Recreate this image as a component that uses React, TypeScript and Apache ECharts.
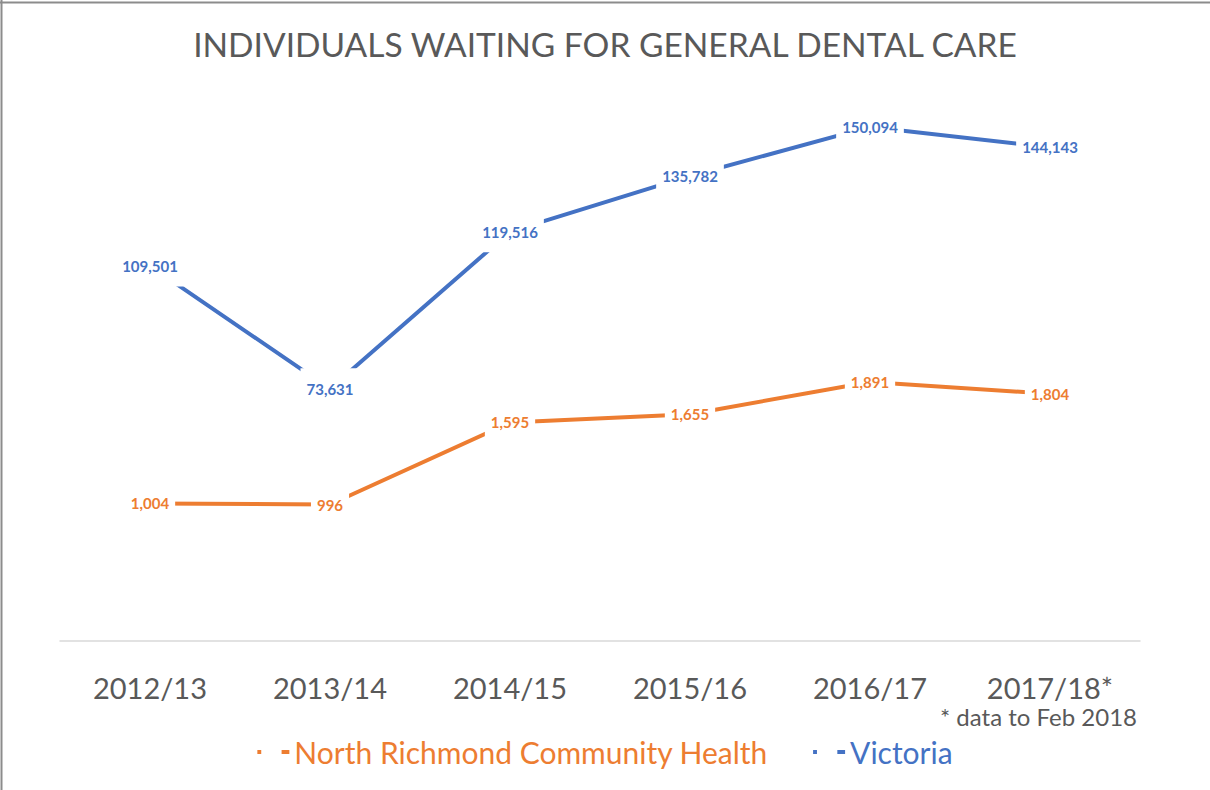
import React, { useEffect, useRef } from "react";
import * as echarts from "echarts";

const categories = ["2012/13", "2013/14", "2014/15", "2015/16", "2016/17", "2017/18*"];
const northRichmond = [1004, 996, 1595, 1655, 1891, 1804];
const victoria = [109501, 73631, 119516, 135782, 150094, 144143];
const seriesNames = ["North Richmond Community Health", "Victoria"];
const footnote = "* data to Feb 2018";
const titleText = "INDIVIDUALS WAITING FOR GENERAL DENTAL CARE";

const ORANGE = "#ED7D31";
const BLUE = "#4472C4";
const FONT = "Lato, 'Open Sans', sans-serif";

export default function App() {
  const ref = useRef<HTMLDivElement>(null);
  useEffect(() => {
    document.body.style.margin = "0";
    const chart = echarts.init(ref.current!, null, { renderer: "svg" });
    const fmt = (p: any) => Number(p.value).toLocaleString("en-US");
    const labelCommon = {
      show: true,
      position: "inside",
      fontFamily: FONT,
      fontWeight: "bold",
      fontSize: 15,
      backgroundColor: "#ffffff",
      padding: [13, 6],
      formatter: fmt,
    };
    chart.setOption({
      animation: false,
      backgroundColor: "#ffffff",
      textStyle: { fontFamily: FONT },
      title: {
        text: titleText,
        left: "center",
        top: 22,
        textStyle: { fontFamily: FONT, fontSize: 33.5, fontWeight: "normal", color: "#595959" },
      },
      grid: { left: 60, right: 70, top: 93, bottom: 149 },
      legend: {
        bottom: 18,
        left: "center",
        itemWidth: 32,
        itemHeight: 4,
        itemGap: 45,
        icon: "path://M0,0H4V4H0Z M25,0H33V4H25Z",
        textStyle: { fontFamily: FONT, fontSize: 30 },
        data: [
          { name: seriesNames[0], textStyle: { color: ORANGE } },
          { name: seriesNames[1], textStyle: { color: BLUE } },
        ],
      },
      xAxis: {
        type: "category",
        data: categories,
        boundaryGap: true,
        axisLine: { lineStyle: { color: "#d9d9d9", width: 1.5 } },
        axisTick: { show: false },
        axisLabel: { fontFamily: FONT, fontSize: 29, color: "#595959", margin: 32 },
      },
      yAxis: [
        { type: "value", min: 0, max: 4000, show: false, splitLine: { show: false } },
        { type: "value", min: 0, max: 160000, show: false, splitLine: { show: false } },
      ],
      series: [
        {
          name: seriesNames[0],
          type: "line",
          yAxisIndex: 0,
          data: northRichmond,
          symbol: "circle",
          symbolSize: 2,
          itemStyle: { color: ORANGE },
          lineStyle: { color: ORANGE, width: 4 },
          label: { ...labelCommon, color: ORANGE },
        },
        {
          name: seriesNames[1],
          type: "line",
          yAxisIndex: 1,
          data: victoria,
          symbol: "circle",
          symbolSize: 2,
          itemStyle: { color: BLUE },
          lineStyle: { color: BLUE, width: 4 },
          label: { ...labelCommon, color: BLUE },
        },
      ],
      graphic: [
        {
          type: "text",
          left: 940,
          top: 704,
          style: { text: footnote, fontFamily: FONT, fontSize: 24, fill: "#595959" },
        },
        {
          type: "line",
          shape: { x1: 0, y1: 2.5, x2: 1210, y2: 2.5 },
          style: { stroke: "#8c8c8c", lineWidth: 2 },
        },
        {
          type: "line",
          shape: { x1: 1.5, y1: 0, x2: 1.5, y2: 790 },
          style: { stroke: "#8c8c8c", lineWidth: 2 },
        },
      ],
    });
    return () => chart.dispose();
  }, []);
  return <div ref={ref} style={{ width: 1210, height: 790 }} />;
}
